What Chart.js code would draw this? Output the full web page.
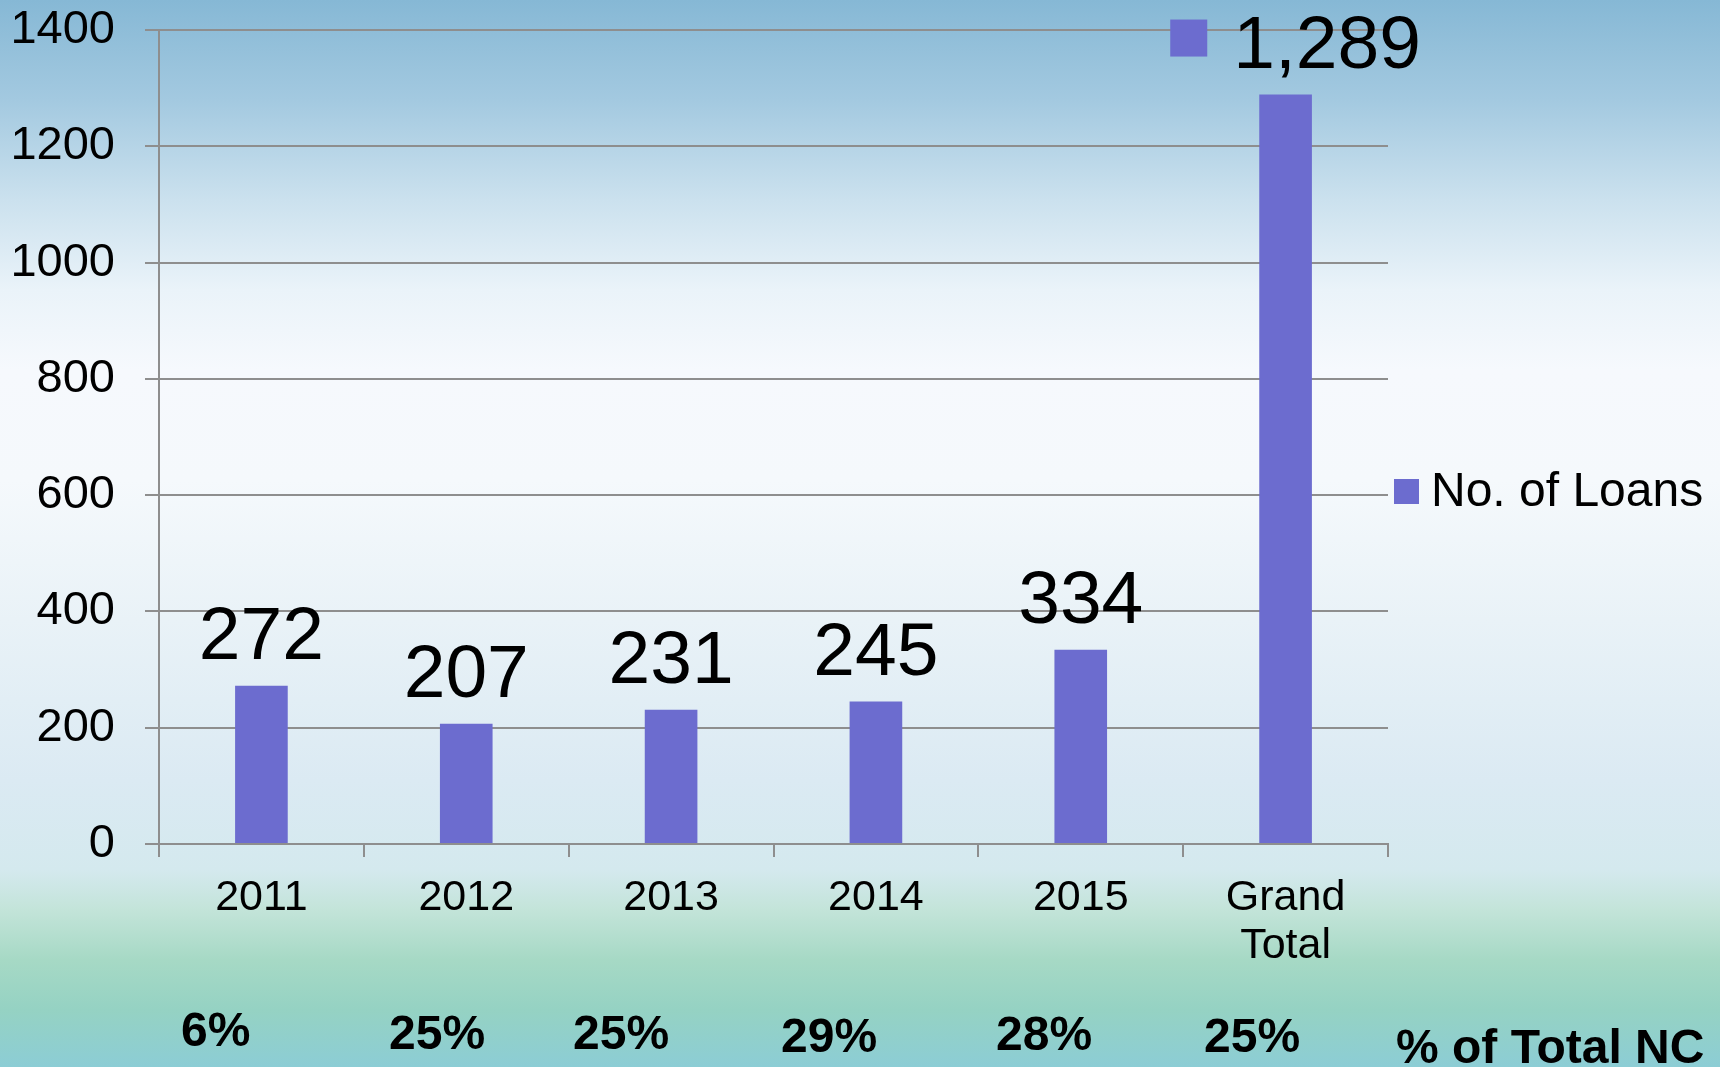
<!DOCTYPE html>
<html><head><meta charset="utf-8">
<script src="https://cdn.jsdelivr.net/npm/chart.js@4/dist/chart.umd.min.js"></script>
<style>
html,body{margin:0;padding:0;width:1720px;height:1067px;overflow:hidden;}
body{background:linear-gradient(to bottom,#86b8d5 0px,#a3c9e0 100px,#cbe1ee 200px,#eaf3f9 290px,#f6f9fd 370px,#f5f9fc 480px,#e9f2f7 620px,#dbeaf3 780px,#d4e9ee 870px,#c3e4d9 910px,#a6d9c5 960px,#95d2c3 1010px,#8ccdd5 1067px);}
#wrap{position:relative;width:1720px;height:1067px}
</style></head><body><div id="wrap"><canvas id="c" width="1720" height="1067"></canvas></div>
<script>
const categories = ['2011', '2012', '2013', '2014', '2015', ['Grand', 'Total']];
const loans = [272, 207, 231, 245, 334, 1289];
const pctOfTotalNC = ['6%', '25%', '25%', '29%', '28%', '25%'];
const pctRowTitle = '% of Total NC';
const seriesName = 'No. of Loans';
const yMin = 0, yMax = 1400, yStep = 200;

// layout (not data)
const FONT = "'Liberation Sans', Arial, Helvetica, sans-serif";
const BAR_COLOR = '#6c6ccf';
const GRID_COLOR = '#8e8e8e';
const pctX = [181, 389, 573, 781, 996, 1204];
const pctBase = [1046, 1049, 1049, 1052, 1050, 1052];
const pctTitlePos = [1396, 1063];

const overlay = {
  id: 'overlay',
  afterDatasetsDraw(chart) {
    const ctx = chart.ctx;
    const meta = chart.getDatasetMeta(0);
    const ds = chart.data.datasets[0];
    ctx.save();
    ctx.fillStyle = '#000';
    ctx.font = '75px ' + FONT;
    ctx.textBaseline = 'alphabetic';
    meta.data.forEach((bar, i) => {
      const txt = ds.data[i].toLocaleString('en-US');
      const base = bar.y - 27;
      if (i === ds.data.length - 1) {
        const w = ctx.measureText(txt).width;
        const sq = 37, gap = 26;
        const start = bar.x - (sq + gap + w) / 2 + 10;
        ctx.fillStyle = ds.backgroundColor;
        ctx.fillRect(start, base - 48, sq, sq);
        ctx.fillStyle = '#000';
        ctx.textAlign = 'left';
        ctx.fillText(txt, start + sq + gap, base);
      } else {
        ctx.textAlign = 'center';
        ctx.fillText(txt, bar.x, base);
      }
    });
    // legend
    const ca = chart.chartArea;
    ctx.fillStyle = ds.backgroundColor;
    ctx.fillRect(ca.right + 6, 479, 25, 25);
    ctx.fillStyle = '#000';
    ctx.textAlign = 'left';
    ctx.font = '48px ' + FONT;
    ctx.fillText(ds.label, ca.right + 43, 506);
    // percent row
    ctx.font = 'bold 48px ' + FONT;
    pctOfTotalNC.forEach((p, i) => ctx.fillText(p, pctX[i], pctBase[i]));
    ctx.fillText(pctRowTitle, pctTitlePos[0], pctTitlePos[1]);
    ctx.restore();
  }
};

new Chart(document.getElementById('c'), {
  type: 'bar',
  data: {
    labels: categories,
    datasets: [{
      label: seriesName,
      data: loans,
      backgroundColor: BAR_COLOR,
      borderWidth: 0,
      categoryPercentage: 1,
      barPercentage: 0.257
    }]
  },
  options: {
    responsive: false,
    animation: false,
    events: [],
    layout: { padding: { top: 30, right: 332, left: 0, bottom: 0 } },
    plugins: { legend: { display: false }, tooltip: { enabled: false } },
    scales: {
      x: {
        afterFit(s) { s.height = 223; },
        grid: { drawOnChartArea: false, offset: true, tickLength: 13, color: GRID_COLOR, lineWidth: 2 },
        border: { color: GRID_COLOR, width: 2 },
        ticks: { color: '#000', padding: 17, font: { family: FONT, size: 43, lineHeight: '48px' }, maxRotation: 0, autoSkip: false }
      },
      y: {
        min: yMin, max: yMax,
        afterFit(s) { s.width = 159; s.paddingTop = 0; s.paddingBottom = 0; },
        grid: { color: GRID_COLOR, lineWidth: 2, tickLength: 14 },
        border: { color: GRID_COLOR, width: 2 },
        ticks: { stepSize: yStep, color: '#000', padding: 30, font: { family: FONT, size: 47 }, callback: (v) => String(v) }
      }
    }
  },
  plugins: [overlay]
});
</script></body></html>
